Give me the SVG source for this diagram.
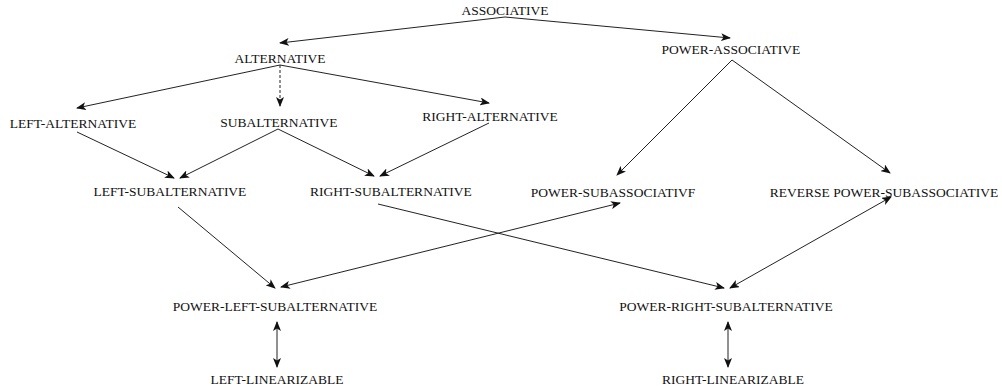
<svg xmlns="http://www.w3.org/2000/svg" width="1002" height="391" viewBox="0 0 1002 391">
<style>
text{font-family:"Liberation Serif","Times New Roman",serif;font-size:13.5px;fill:#111;text-anchor:middle}
.c line{stroke:#222;stroke-width:1;fill:none;marker-end:url(#ah)}
.c line.b{marker-start:url(#ah)}
.c line.d{stroke-dasharray:3 2}
</style>
<defs>
<marker id="ah" markerUnits="userSpaceOnUse" markerWidth="10" markerHeight="8" refX="9" refY="4" orient="auto-start-reverse">
<path d="M0,0 L10,4 L0,8 L2.5,4 z" fill="#111"/>
</marker>
</defs>
<rect width="1002" height="391" fill="#fff"/>
<g class="c" id="connectors">
<line x1="505" y1="17" x2="280" y2="43"/>
<line x1="505" y1="17" x2="730" y2="38"/>
<line x1="280" y1="65" x2="77" y2="108"/>
<line class="d" x1="280" y1="65" x2="280" y2="106"/>
<line x1="280" y1="65" x2="489" y2="103"/>
<line x1="77" y1="132" x2="174" y2="178"/>
<line x1="278" y1="129" x2="180" y2="178"/>
<line x1="278" y1="129" x2="374" y2="176"/>
<line x1="489" y1="123" x2="380" y2="176"/>
<line x1="732" y1="60" x2="617" y2="175"/>
<line x1="732" y1="60" x2="890" y2="173"/>
<line x1="178" y1="207" x2="275" y2="288"/>
<line x1="378" y1="204" x2="724" y2="288"/>
<line class="b" x1="281" y1="287" x2="620" y2="203"/>
<line class="b" x1="730" y1="288" x2="891" y2="197"/>
<line class="b" x1="277" y1="322" x2="277" y2="367"/>
<line class="b" x1="728" y1="322" x2="728" y2="367"/>
</g>
<g id="n-associative"><text x="505" y="15">ASSOCIATIVE</text></g>
<g id="n-alternative"><text x="280" y="63">ALTERNATIVE</text></g>
<g id="n-power-associative"><text x="731" y="54">POWER-ASSOCIATIVE</text></g>
<g id="n-left-alternative"><text x="73" y="128">LEFT-ALTERNATIVE</text></g>
<g id="n-subalternative"><text x="279" y="127">SUBALTERNATIVE</text></g>
<g id="n-right-alternative"><text x="490" y="121">RIGHT-ALTERNATIVE</text></g>
<g id="n-left-subalternative"><text x="170" y="196">LEFT-SUBALTERNATIVE</text></g>
<g id="n-right-subalternative"><text x="391" y="196">RIGHT-SUBALTERNATIVE</text></g>
<g id="n-power-subassociative"><text x="613" y="197">POWER-SUBASSOCIATIVF</text></g>
<g id="n-reverse-power-subassociative"><text x="884" y="197">REVERSE POWER-SUBASSOCIATIVE</text></g>
<g id="n-power-left-subalternative"><text x="275" y="311">POWER-LEFT-SUBALTERNATIVE</text></g>
<g id="n-power-right-subalternative"><text x="726" y="311">POWER-RIGHT-SUBALTERNATIVE</text></g>
<g id="n-left-linearizable"><text x="277" y="384">LEFT-LINEARIZABLE</text></g>
<g id="n-right-linearizable"><text x="733" y="384">RIGHT-LINEARIZABLE</text></g>
</svg>
